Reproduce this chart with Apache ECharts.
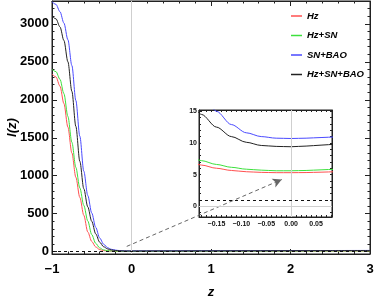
<!DOCTYPE html>
<html><head><meta charset="utf-8">
<script src="https://cdn.jsdelivr.net/npm/echarts@6/dist/echarts.min.js"></script>
<style>html,body{margin:0;padding:0;background:#fff}#c{width:374px;height:305px}</style>
</head><body><div id="c"></div>
<script>
// ---- data ----
const zValues = [-1,-0.95,-0.9,-0.85,-0.8,-0.75,-0.7,-0.65,-0.6,-0.55,-0.5,-0.45,-0.4,-0.35,-0.3,-0.25,-0.2,
  -0.18,-0.15,-0.12,-0.09,-0.06,-0.03,0,0.03,0.06,0.09,0.5,1,1.5,2,2.5,3];
const hz      = [2340,2300,2180,1950,1640,1300,980,715,480,260,135,62,28,14,10,8,6.9,
  6.5,6.0,5.65,5.45,5.35,5.3,5.3,5.32,5.38,5.45,6,7,8,9,10,11];
const hzSN    = [2400,2370,2270,2080,1780,1440,1110,840,610,405,225,110,50,24,13.5,9.5,7.7,
  7.2,6.6,6.15,5.85,5.7,5.6,5.6,5.65,5.75,5.85,6.5,7.5,8.5,9.5,10.5,11.5];
const snBAO   = [3290,3255,3160,3010,2790,2450,1990,1520,1060,740,509,320,180,98,52,31,21,
  18.2,15,12.9,11.6,11.0,10.75,10.7,10.75,10.85,10.95,12,13,14,15,16,17];
const hzSNBAO = [3100,3065,2960,2780,2500,2110,1650,1190,830,590,400,235,125,65,37,23,16,
  14.5,12.5,11.0,10.1,9.6,9.45,9.4,9.5,9.65,9.8,10.5,11.5,12.5,13.5,14.5,15.5];
const seriesNames = ['Hz','Hz+SN','SN+BAO','Hz+SN+BAO'];
const yTickLabels = [0,500,1000,1500,2000,2500,3000];
const insetXLabels = [-0.15,-0.10,-0.05,0,0.05];
const insetYLabels = [0,5,10,15];
const referenceLevel = 1;
const arrowFrom = [-0.06, 70];
const arrowTo = [1.89, 950];

// ---- styling ----
const colors = ['#ff5050','#3de03d','#4a4aff','#222222'];
const allValues = [hz, hzSN, snBAO, hzSNBAO];
const FONT = "'Liberation Sans', Arial, sans-serif";
const NARROW = "'Liberation Sans Narrow', 'Liberation Sans', Arial, sans-serif";
const frame = '#222';

function pairs(vals){ return zValues.map((z,i)=>[z, vals[i]]); }
function range(a,b,s){ const r=[]; for(let i=0;;i++){ const v=+(a+i*s).toFixed(6); if(v>b+1e-9)break; r.push(v);} return r; }
const minorMainY = range(0,3300,100);
const insetXMinor = range(-0.18,0.08,0.01);
const insetYMinor = range(-1,15,1);
const fmtInset = v => (v<0?'\u2212':'') + Math.abs(v).toFixed(2);

const chart = echarts.init(document.getElementById('c'), null, {renderer:'canvas'});

const gray = {color:'#cfcfcf',width:1,type:'solid'};
const dash = {color:'#111',width:1.2,type:[3,3]};
const arrowStyle = {color:'#666',width:1,type:[4,3]};

const series = [];
allValues.forEach((vals,i)=>{
  series.push({
    name: seriesNames[i], type:'line', xAxisIndex:0, yAxisIndex:0,
    data: pairs(vals), symbol:'none', smooth:0.3, smoothMonotone:'x',
    lineStyle:{color:colors[i], width:1}, itemStyle:{color:colors[i]}, z:3,
    markLine: i===0 ? {
      silent:true, symbol:['none','none'], label:{show:false}, animation:false,
      data:[
        [{coord:[0,-30], lineStyle:gray},{coord:[0,3300], lineStyle:gray}],
        [{coord:[-1,referenceLevel], lineStyle:dash},{coord:[3,referenceLevel], lineStyle:dash}],
        [{coord:arrowFrom, symbol:'none', lineStyle:arrowStyle},
         {coord:arrowTo, symbol:'arrow', symbolSize:[7,9], lineStyle:arrowStyle}]
      ]
    } : undefined
  });
});
allValues.forEach((vals,i)=>{
  series.push({
    name: seriesNames[i], type:'line', xAxisIndex:2, yAxisIndex:4,
    data: pairs(vals), symbol:'none', smooth:0.3, smoothMonotone:'x', clip:true,
    lineStyle:{color:colors[i], width:1}, itemStyle:{color:colors[i]}, z:3,
    markLine: i===0 ? {
      silent:true, symbol:['none','none'], label:{show:false}, animation:false,
      data:[
        [{coord:[0,-1.7], lineStyle:gray},{coord:[0,15.2], lineStyle:gray}],
        [{coord:[-0.185,0], lineStyle:gray},{coord:[0.082,0], lineStyle:gray}],
        [{coord:[-0.185,referenceLevel], lineStyle:dash},{coord:[0.082,referenceLevel], lineStyle:dash}]
      ]
    } : undefined
  });
});

const mainLabel = {fontFamily:FONT, fontWeight:'bold', fontSize:13, color:'#000'};
const insetLabel = {fontFamily:NARROW, fontWeight:'bold', fontSize:7, color:'#111'};

chart.setOption({
  animation:false,
  backgroundColor:'#fff',
  grid:[
    {left:52, right:4, top:1, bottom:51, show:true, borderColor:frame, borderWidth:1, outerBoundsMode:'none', containLabel:false},
    {left:199, right:42, top:110, bottom:88, show:true, borderColor:frame, borderWidth:1, backgroundColor:'transparent', outerBoundsMode:'none', containLabel:false}
  ],
  legend:{
    orient:'vertical', left:291, top:11, padding:0, itemWidth:11, itemHeight:1.5, itemGap:9.5, icon:'rect',
    data: seriesNames,
    textStyle:{fontFamily:FONT, fontStyle:'italic', fontWeight:'bold', fontSize:9.5, color:'#000', lineHeight:10},
    selectedMode:false
  },
  xAxis:[
    {gridIndex:0, type:'value', min:-1, max:3, interval:1, position:'bottom',
     name:'z', nameLocation:'middle', nameGap:32,
     nameTextStyle:{fontFamily:FONT, fontStyle:'italic', fontWeight:'bold', fontSize:13, color:'#000'},
     axisLine:{show:true, onZero:false, lineStyle:{color:frame}},
     axisTick:{show:true, inside:true, length:5, lineStyle:{color:frame}},
     minorTick:{show:true, splitNumber:5, length:2.5, lineStyle:{color:frame}},
     axisLabel:{...mainLabel, margin:9, formatter:v=> (v<0?'\u2212':'')+Math.abs(v)},
     splitLine:{show:false}},
    {gridIndex:0, type:'value', min:-1, max:3, interval:1, position:'top',
     axisLine:{show:true, onZero:false, lineStyle:{color:frame}},
     axisTick:{show:true, inside:true, length:5, lineStyle:{color:frame}},
     minorTick:{show:true, splitNumber:5, length:2.5, lineStyle:{color:frame}},
     axisLabel:{show:false}, splitLine:{show:false}},
    {gridIndex:1, type:'value', min:-0.185, max:0.082, position:'bottom',
     axisLine:{show:true, onZero:false, lineStyle:{color:frame}},
     axisTick:{show:true, inside:true, length:2, customValues:insetXMinor, lineStyle:{color:frame}},
     axisLabel:{...insetLabel, margin:4, customValues:insetXLabels, formatter:fmtInset},
     splitLine:{show:false}},
    {gridIndex:1, type:'value', min:-0.185, max:0.082, position:'top',
     axisLine:{show:true, onZero:false, lineStyle:{color:frame}},
     axisTick:{show:true, inside:true, length:2, customValues:insetXMinor, lineStyle:{color:frame}},
     axisLabel:{show:false}, splitLine:{show:false}}
  ],
  yAxis:[
    {gridIndex:0, type:'value', min:-30, max:3300, position:'left',
     name:'I(z)', nameLocation:'middle', nameGap:33, nameRotate:90, nameMoveOverlap:false,
     nameTextStyle:{fontFamily:FONT, fontStyle:'italic', fontWeight:'bold', fontSize:13, color:'#000'},
     axisLine:{show:true, onZero:false, lineStyle:{color:frame}},
     axisTick:{show:true, inside:true, length:5, customValues:yTickLabels, lineStyle:{color:frame}},
     axisLabel:{...mainLabel, margin:3, customValues:yTickLabels, formatter:v=>String(v)},
     splitLine:{show:false}},
    {gridIndex:0, type:'value', min:-30, max:3300, position:'left',
     axisLine:{show:false, onZero:false},
     axisTick:{show:true, inside:true, length:2.5, customValues:minorMainY, lineStyle:{color:frame}},
     axisLabel:{show:false}, splitLine:{show:false}},
    {gridIndex:0, type:'value', min:-30, max:3300, position:'right',
     axisLine:{show:true, onZero:false, lineStyle:{color:frame}},
     axisTick:{show:true, inside:true, length:5, customValues:yTickLabels, lineStyle:{color:frame}},
     axisLabel:{show:false}, splitLine:{show:false}},
    {gridIndex:0, type:'value', min:-30, max:3300, position:'right',
     axisLine:{show:false, onZero:false},
     axisTick:{show:true, inside:true, length:2.5, customValues:minorMainY, lineStyle:{color:frame}},
     axisLabel:{show:false}, splitLine:{show:false}},
    {gridIndex:1, type:'value', min:-1.7, max:15.2, position:'left',
     axisLine:{show:true, onZero:false, lineStyle:{color:frame}},
     axisTick:{show:true, inside:true, length:2, customValues:insetYMinor, lineStyle:{color:frame}},
     axisLabel:{...insetLabel, margin:2, customValues:insetYLabels, formatter:v=>String(v)},
     splitLine:{show:false}},
    {gridIndex:1, type:'value', min:-1.7, max:15.2, position:'right',
     axisLine:{show:true, onZero:false, lineStyle:{color:frame}},
     axisTick:{show:true, inside:true, length:2, customValues:insetYMinor, lineStyle:{color:frame}},
     axisLabel:{show:false}, splitLine:{show:false}}
  ],
  series: series
});
</script></body></html>
